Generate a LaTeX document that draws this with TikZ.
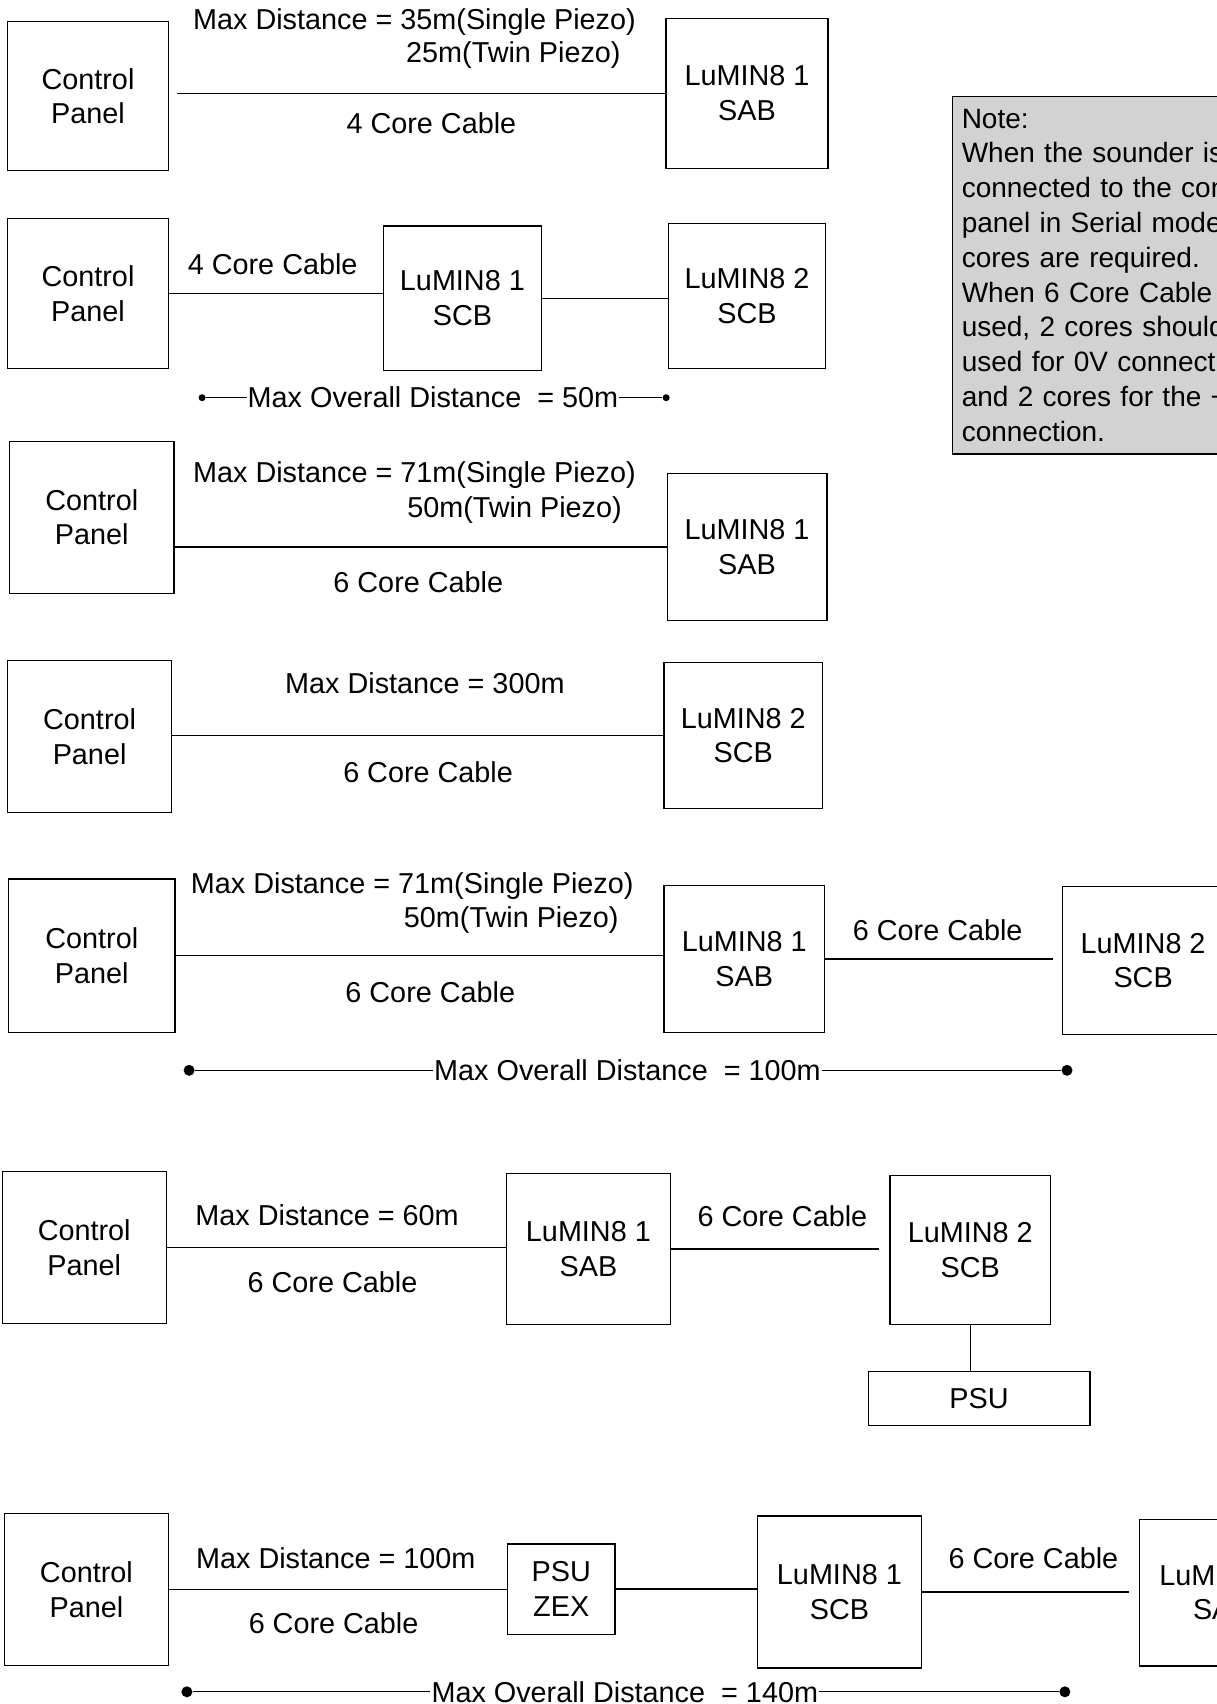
\documentclass[tikz,border=0pt]{standalone}
\usepackage{fontspec}
\setmainfont{Liberation Sans}
\begin{document}
\begin{tikzpicture}[x=1pt,y=-1pt,line width=1.3pt,
  every node/.style={font=\fontsize{28.8}{34.8}\selectfont},
  unitbox/.style 2 args={draw,align=center,inner sep=0pt,minimum width=#1,minimum height=#2},
  lbl/.style={inner sep=0pt},
  endpt/.style={circle,fill=black,inner sep=0pt,minimum size=#1},
  endpt/.default=11pt]
\useasboundingbox (0,0) rectangle (1217,1704);
\clip (0,0) rectangle (1217,1704);

% note
\node[draw,fill=gray!35,anchor=north west,align=left,text width=400pt,
  font=\fontsize{28}{34.8}\selectfont,
  inner xsep=9.2pt,inner ysep=12.5pt] (note) at (951.9,95.6)
  {Note:\\When the sounder is\\connected to the control\\panel in Serial mode\\cores are required.\\When 6 Core Cable\\used, 2 cores should\\used for 0V connection\\and 2 cores for the +\\connection.};

% row 1
\node[unitbox={160.8pt}{148.9pt}] (cp1) at (88,96.2) {Control\\Panel};
\node[unitbox={161.9pt}{149.9pt}] (sab1) at (747,93.4) {LuMIN8 1\\SAB};
\draw[shorten <=7.6pt] (cp1.east |- sab1.west) -- (sab1.west);
\node[lbl,anchor=west] at (192.5,21.7) {Max Distance = 35m(Single Piezo)};
\node[lbl,anchor=west] at (405.5,55.4) {25m(Twin Piezo)};
\node[lbl] at (431.4,122.8) {4 Core Cable};

% row 2
\node[unitbox={160.8pt}{150pt}] (cp2) at (88,293.4) {Control\\Panel};
\node[unitbox={157.5pt}{144.5pt}] (scb21) at (462.4,298.3) {LuMIN8 1\\SCB};
\node[unitbox={157.5pt}{144.6pt}] (scb22) at (747,296.1) {LuMIN8 2\\SCB};
\draw (cp2.east) -- (cp2.east -| scb21.west);
\draw (scb21.east) -- (scb21.east -| scb22.west);
\node[lbl] at (272.7,264) {4 Core Cable};
\node[lbl,inner sep=0.5pt] (ov2) at (433,397.7) {Max Overall Distance~ = 50m};
\node[endpt=7pt] (d2a) at (202.1,397.7) {};
\node[endpt=7pt] (d2b) at (666.1,397.7) {};
\draw (d2a) -- (ov2.west);
\draw (ov2.east) -- (d2b);

% row 3
\node[unitbox={164.1pt}{152.1pt}] (cp3) at (91.8,517.2) {Control\\Panel};
\node[unitbox={159.7pt}{146.6pt}] (sab3) at (747,547.1) {LuMIN8 1\\SAB};
\draw (cp3.east |- sab3.west) -- (sab3.west);
\node[lbl,anchor=west] at (192.5,474.8) {Max Distance = 71m(Single Piezo)};
\node[lbl,anchor=west] at (406.6,509.6) {50m(Twin Piezo)};
\node[lbl] at (418.3,582.4) {6 Core Cable};

% row 4
\node[unitbox={164.1pt}{152.1pt}] (cp4) at (89.6,736.7) {Control\\Panel};
\node[unitbox={158.7pt}{145.6pt}] (scb4) at (743.3,735.6) {LuMIN8 2\\SCB};
\draw (cp4.east |- scb4.west) -- (scb4.west);
\node[lbl] at (424.9,683.5) {Max Distance = 300m};
\node[lbl] at (428.1,772.6) {6 Core Cable};

% row 5
\node[unitbox={166.2pt}{153.2pt}] (cp5) at (91.8,955.7) {Control\\Panel};
\node[unitbox={160.8pt}{146.7pt}] (sab5) at (744.3,959) {LuMIN8 1\\SAB};
\node[unitbox={160.8pt}{147.7pt}] (scb5) at (1143.1,960.6) {LuMIN8 2\\SCB};
\draw (cp5.east) -- (cp5.east -| sab5.west);
\draw[shorten >=8.7pt] (sab5.east) -- (sab5.east -| scb5.west);
\node[lbl,anchor=west] at (190.3,885.6) {Max Distance = 71m(Single Piezo)};
\node[lbl,anchor=west] at (403.3,920.4) {50m(Twin Piezo)};
\node[lbl] at (430.3,992.1) {6 Core Cable};
\node[lbl] at (937.7,930.1) {6 Core Cable};
\node[lbl,inner sep=0.5pt] (ov5) at (627.5,1070.3) {Max Overall Distance~ = 100m};
\node[endpt] (d5a) at (189.1,1070.3) {};
\node[endpt] (d5b) at (1067,1070.3) {};
\draw (d5a) -- (ov5.west);
\draw (ov5.east) -- (d5b);

% row 6
\node[unitbox={164pt}{152.1pt}] (cp6) at (84.2,1247.4) {Control\\Panel};
\node[unitbox={164pt}{151.1pt}] (sab6) at (588.4,1249) {LuMIN8 1\\SAB};
\node[unitbox={160.8pt}{148.9pt}] (scb6) at (970.3,1250.2) {LuMIN8 2\\SCB};
\node[unitbox={221.7pt}{54.3pt}] (psu6) at (979,1398.5) {PSU};
\draw (cp6.east) -- (cp6.east -| sab6.west);
\draw[shorten >=9.8pt] (sab6.east) -- (sab6.east -| scb6.west);
\draw (scb6.south) -- (scb6.south |- psu6.north);
\node[lbl] at (327.1,1214.8) {Max Distance = 60m};
\node[lbl] at (332.5,1282.2) {6 Core Cable};
\node[lbl] at (782.4,1215.9) {6 Core Cable};

% row 7
\node[unitbox={164.1pt}{152.2pt}] (cp7) at (86.4,1589.7) {Control\\Panel};
\node[unitbox={107.6pt}{90.1pt}] (zex7) at (561.2,1589.1) {PSU\\ZEX};
\node[unitbox={164pt}{152.1pt}] (scb7) at (839.4,1591.9) {LuMIN8 1\\SCB};
\node[unitbox={164pt}{146.7pt}] (sab7) at (1221.8,1592.5) {LuMIN8 2\\SAB};
\draw (cp7.east) -- (cp7.east -| zex7.west);
\draw (zex7.east) -- (zex7.east -| scb7.west);
\draw[shorten >=9.7pt] (scb7.east) -- (scb7.east -| sab7.west);
\node[lbl] at (335.8,1558.2) {Max Distance = 100m};
\node[lbl] at (333.6,1623.4) {6 Core Cable};
\node[lbl] at (1033.4,1558.2) {6 Core Cable};
\node[lbl,inner sep=0.5pt] (ov7) at (624.8,1691.8) {Max Overall Distance~ = 140m};
\node[endpt] (d7a) at (186.9,1691.8) {};
\node[endpt] (d7b) at (1064.9,1691.8) {};
\draw (d7a) -- (ov7.west);
\draw (ov7.east) -- (d7b);
\end{tikzpicture}
\end{document}
